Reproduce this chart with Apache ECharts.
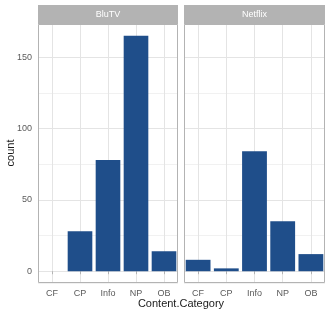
<!DOCTYPE html>
<html>
<head>
<meta charset="utf-8">
<script src="https://cdn.jsdelivr.net/npm/echarts@6/dist/echarts.min.js"></script>
<style>
html, body { margin: 0; padding: 0; background: #fff; }
#main { width: 327px; height: 314px; }
</style>
</head>
<body>
<div id="main"></div>
<script>
var categories = ['CF', 'CP', 'Info', 'NP', 'OB'];
var panels = ['BluTV', 'Netflix'];
var bluTV = [0, 28, 78, 165, 14];
var netflix = [8, 2, 84, 35, 12];
var yLabels = [0, 50, 100, 150];

var dom = document.getElementById('main');
var myChart = echarts.init(dom);

var top_ = 24, bottom_ = 283;
var grids = [
    { left: 38, top: top_, width: 140, height: bottom_ - top_ },
    { left: 184, top: top_, width: 141, height: bottom_ - top_ }
];
var yMax = 165 * 1.05, yMin = -165 * 0.05;

function xAxis(i) {
    return {
        type: 'category',
        gridIndex: i,
        data: categories,
        axisLine: { show: false },
        axisTick: { show: true, alignWithLabel: true, length: 3, lineStyle: { color: '#b3b3b3' } },
        axisLabel: { color: '#5a5a5a', fontSize: 9, fontFamily: 'Liberation Sans', margin: 6 },
        splitLine: { show: true, alignWithLabel: true, lineStyle: { color: '#e4e4e4', width: 1 } }
    };
}
function yAxis(i) {
    return {
        type: 'value',
        gridIndex: i,
        min: yMin,
        max: yMax,
        minInterval: 25,
        maxInterval: 25,
        axisLine: { show: false },
        axisTick: { show: false },
        axisLabel: {
            show: i === 0,
            showMinLabel: false,
            showMaxLabel: false,
            color: '#5a5a5a', fontSize: 9, fontFamily: 'Liberation Sans', margin: 6,
            formatter: function (v) { return yLabels.indexOf(v) >= 0 ? String(v) : ''; }
        },
        splitLine: { show: true, lineStyle: { color: ['#f1f1f1', '#e4e4e4'], width: 1 } }
    };
}

var graphics = [];
grids.forEach(function (g, i) {
    graphics.push({
        type: 'rect', silent: true,
        shape: { x: g.left, y: 5, width: g.width, height: top_ - 5 },
        style: { fill: '#b3b3b3' }
    });
    graphics.push({
        type: 'text', silent: true,
        x: g.left + g.width / 2, y: 5 + (top_ - 5) / 2,
        style: { text: panels[i], fill: '#ffffff', fontSize: 9, fontFamily: 'Liberation Sans', align: 'center', verticalAlign: 'middle' }
    });
    graphics.push({
        type: 'rect', silent: true, z: 100,
        shape: { x: g.left + 0.5, y: g.top + 0.5, width: g.width - 1, height: g.height - 1 },
        style: { fill: 'none', stroke: '#b3b3b3', lineWidth: 1 }
    });
});
graphics.push({
    type: 'text', silent: true,
    x: 181, y: 304,
    style: { text: 'Content.Category', fill: '#1a1a1a', fontSize: 11, fontFamily: 'Liberation Sans', align: 'center', verticalAlign: 'middle' }
});
graphics.push({
    type: 'text', silent: true,
    x: 11, y: 153, rotation: Math.PI / 2,
    style: { text: 'count', fill: '#1a1a1a', fontSize: 11, fontFamily: 'Liberation Sans', align: 'center', verticalAlign: 'middle' }
});

var option = {
    animation: false,
    grid: grids,
    xAxis: [xAxis(0), xAxis(1)],
    yAxis: [yAxis(0), yAxis(1)],
    graphic: graphics,
    series: [
        {
            name: panels[0], type: 'bar', xAxisIndex: 0, yAxisIndex: 0,
            data: bluTV, barCategoryGap: '12%',
            itemStyle: { color: '#1f4e8a' }
        },
        {
            name: panels[1], type: 'bar', xAxisIndex: 1, yAxisIndex: 1,
            data: netflix, barCategoryGap: '12%',
            itemStyle: { color: '#1f4e8a' }
        }
    ]
};
myChart.setOption(option, true);
</script>
</body>
</html>
